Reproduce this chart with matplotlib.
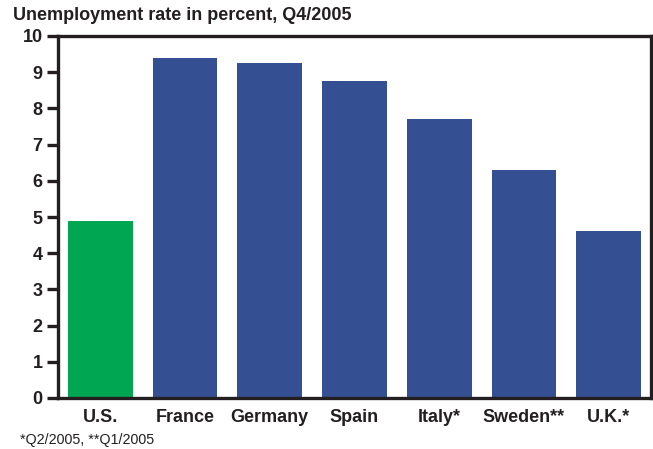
import matplotlib.pyplot as plt

plt.rcParams['font.family'] = ['Liberation Sans', 'DejaVu Sans']

countries = ['U.S.', 'France', 'Germany', 'Spain', 'Italy*', 'Sweden**', 'U.K.*']
rates = [4.9, 9.4, 9.25, 8.75, 7.7, 6.3, 4.6]
bar_colors = ['#00A651', '#354F93', '#354F93', '#354F93', '#354F93', '#354F93', '#354F93']
yticks = [0, 1, 2, 3, 4, 5, 6, 7, 8, 9, 10]

ink = '#231F20'

fig = plt.figure(figsize=(6.53, 4.49), dpi=100)
ax = fig.add_axes([58/653, 1 - 398/449, (651-58)/653, (398-36)/449])

ax.bar(range(len(countries)), rates, width=0.765, color=bar_colors, zorder=1)

ax.set_xlim(-0.5, len(countries) - 0.5)
ax.set_ylim(0, 10)
ax.set_yticks(yticks)
ax.set_yticklabels([str(t) for t in yticks], fontsize=13, fontweight='bold', color=ink)
ax.set_xticks(range(len(countries)))
ax.set_xticklabels(countries, fontsize=13, fontweight='bold', color=ink)

ax.tick_params(axis='y', length=8, width=2.4, color=ink, direction='out', pad=3)
ax.tick_params(axis='x', length=0, pad=8)
for s in ax.spines.values():
    s.set_linewidth(2.4)
    s.set_color(ink)

fig.text(13/653, 1 - 16/449, 'Unemployment rate in percent, Q4/2005',
         fontsize=13, fontweight='bold', color=ink, va='center', ha='left')
fig.text(20/653, 1 - 440/449, '*Q2/2005, **Q1/2005',
         fontsize=10.3, color=ink, va='center', ha='left')

fig.savefig('out.png', dpi=100)
